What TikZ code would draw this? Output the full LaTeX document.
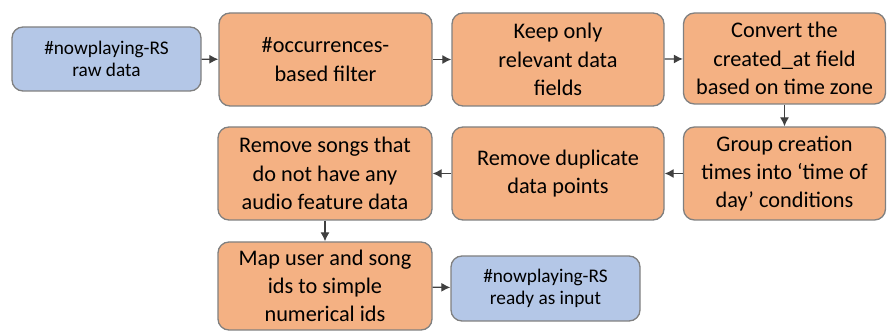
\documentclass[tikz,border=0pt]{standalone}
\usepackage{fontspec}
\setmainfont{Carlito}
\usepackage{tikz}
\usetikzlibrary{positioning,arrows.meta,shapes,calc}

\definecolor{stepfill}{HTML}{F4B183}
\definecolor{datafill}{HTML}{B4C7E7}
\definecolor{boxline}{HTML}{808080}
\definecolor{arrowgray}{HTML}{404040}

\tikzset{
  proc/.style={draw=boxline,fill=stepfill,line width=1.3pt,rounded corners=11pt,align=center,
    inner sep=0pt,font=\fontsize{22.3}{28.3}\selectfont},
  datbox/.style={draw=boxline,fill=datafill,line width=1.3pt,rounded corners=11pt,align=center,
    inner sep=0pt,font=\fontsize{19.3}{22}\selectfont},
  flow/.style={-{Latex[length=9pt,width=9pt]},draw=arrowgray,line width=1.2pt}
}

\begin{document}
\begin{tikzpicture}[x=1pt,y=-1pt]

\useasboundingbox (0,0) rectangle (887,331);

\node[datbox,minimum width=189pt,minimum height=64pt] (raw) at (106.5,59) {\#nowplaying-RS\\raw data};
\node[proc,minimum width=213pt,minimum height=93pt] (occ) at (325.5,59.5) {\#occurrences-\\based filter};
\node[proc,minimum width=212pt,minimum height=93pt] (keep) at (558,59.5) {Keep only\\relevant data\\fields};
\node[proc,minimum width=202pt,minimum height=91pt] (conv) at (784.5,58.5) {Convert the\\created\_at field\\based on time zone};
\node[proc,minimum width=202pt,minimum height=93pt] (group) at (784.5,173.5) {Group creation\\times into `time of\\day' conditions};
\node[proc,minimum width=212pt,minimum height=93pt] (dup) at (558,173.5) {Remove duplicate\\data points};
\node[proc,minimum width=214pt,minimum height=93pt] (songs) at (325,173.5) {Remove songs that\\do not have any\\audio feature data};
\node[proc,minimum width=214pt,minimum height=88pt] (ids) at (325,286) {Map user and song\\ids to simple\\numerical ids};
\node[datbox,minimum width=189pt,minimum height=65pt] (ready) at (545.5,288.5) {\#nowplaying-RS\\ready as input};

\draw[flow] (raw) -- (occ);
\draw[flow] (occ) -- (keep);
\draw[flow] (keep) -- (conv);
\draw[flow] (conv) -- (group);
\draw[flow] (group) -- (dup);
\draw[flow] (dup) -- (songs);
\draw[flow] (songs) -- (ids);
\draw[flow] (ids) -- (ready);

\end{tikzpicture}
\end{document}
